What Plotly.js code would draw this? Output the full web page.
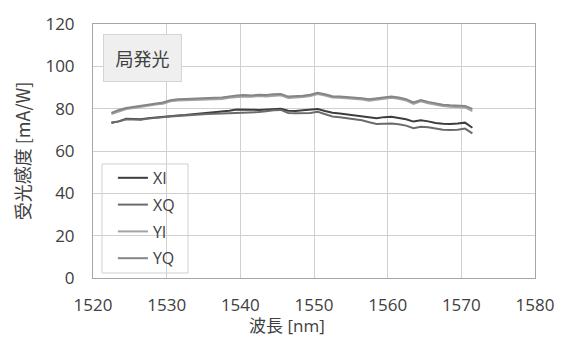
<!DOCTYPE html>
<html>
<head>
<meta charset="utf-8">
<script src="https://cdn.plot.ly/plotly-3.0.1.min.js"></script>
<style>
  html, body { margin: 0; padding: 0; background: #ffffff; }
  #chart { width: 562px; height: 338px; }
</style>
</head>
<body>
<div id="chart"></div>
<script>
// Wavelength samples [nm]
const wavelength = [
  1522.5, 1523.5, 1524.5, 1525.5, 1526.5, 1527.5, 1528.5, 1529.5, 1530.5, 1531.5,
  1532.5, 1533.5, 1534.5, 1535.5, 1536.5, 1537.5, 1538.5, 1539.5, 1540.5, 1541.5,
  1542.5, 1543.5, 1544.5, 1545.5, 1546.5, 1547.5, 1548.5, 1549.5, 1550.5, 1551.5,
  1552.5, 1553.5, 1554.5, 1555.5, 1556.5, 1557.5, 1558.5, 1559.5, 1560.5, 1561.5,
  1562.5, 1563.5, 1564.5, 1565.5, 1566.5, 1567.5, 1568.5, 1569.5, 1570.5, 1571.5
];

// Responsivity [mA/W] per channel
const respXI = [
  73.4, 74.0, 75.2, 75.1, 75.0, 75.5, 75.9, 76.2, 76.6, 76.8,
  77.0, 77.3, 77.6, 77.9, 78.2, 78.5, 79.0, 79.6, 79.7, 79.5,
  79.4, 79.7, 80.0, 80.0, 79.0, 78.9, 79.3, 79.5, 79.8, 78.9,
  78.1, 77.7, 77.3, 76.9, 76.5, 75.8, 75.5, 76.0, 76.2, 75.6,
  75.0, 73.9, 74.5, 74.0, 73.2, 72.9, 72.7, 73.0, 73.4, 71.0
];
const respXQ = [
  73.4, 74.0, 75.0, 74.9, 74.8, 75.3, 75.7, 76.0, 76.3, 76.5,
  76.8, 77.0, 77.3, 77.5, 77.6, 77.7, 77.8, 78.0, 78.3, 78.2,
  78.4, 78.8, 79.3, 79.4, 78.0, 77.8, 77.8, 78.0, 78.5, 77.5,
  76.3, 75.9, 75.4, 75.0, 74.5, 73.6, 72.8, 72.9, 73.0, 72.6,
  72.0, 70.8, 71.4, 71.2, 70.5, 70.0, 69.9, 70.0, 70.6, 68.3
];
const respYI = [
  77.5, 78.8, 79.8, 80.3, 80.9, 81.4, 82.0, 82.3, 83.5, 83.9,
  84.0, 84.1, 84.0, 84.3, 84.4, 84.6, 85.2, 85.6, 85.8, 85.6,
  86.0, 85.8, 86.2, 86.3, 85.0, 85.2, 85.5, 86.0, 86.9, 86.2,
  85.3, 85.2, 85.0, 84.8, 84.3, 83.8, 84.2, 84.9, 85.2, 84.7,
  83.9, 82.2, 83.5, 82.6, 81.8, 81.2, 80.9, 80.8, 80.6, 78.9
];
const respYQ = [
  78.0, 79.4, 80.3, 80.8, 81.5, 82.0, 82.6, 82.9, 84.0, 84.5,
  84.6, 84.7, 84.6, 84.9, 85.1, 85.3, 85.8, 86.2, 86.4, 86.2,
  86.6, 86.5, 86.8, 86.9, 85.7, 85.8, 86.1, 86.6, 87.5, 86.8,
  85.9, 85.8, 85.6, 85.4, 84.9, 84.4, 84.8, 85.5, 85.8, 85.3,
  84.5, 82.9, 84.1, 83.2, 82.4, 81.9, 81.6, 81.5, 81.3, 79.9
];

const channelNames = ['XI', 'XQ', 'YI', 'YQ'];
const channelData = [respXI, respXQ, respYI, respYQ];
const channelColors = ['#3d3d3d', '#6b6b6b', '#a2a2a2', '#858585'];

const xTicks = [1520, 1530, 1540, 1550, 1560, 1570, 1580];
const yTicks = [0, 20, 40, 60, 80, 100, 120];

const latin = '"Open Sans", "Noto Sans CJK JP", sans-serif';
const cjk = '"Noto Sans CJK JP", sans-serif';
const textColor = '#404040';

const traces = channelNames.map((name, i) => ({
  type: 'scatter',
  mode: 'lines',
  name: name,
  legendgroup: name,
  x: wavelength,
  y: channelData[i],
  line: { color: channelColors[i], width: 2 },
  hoverinfo: 'skip'
}));

const layout = {
  width: 562,
  height: 338,
  margin: { l: 93, r: 27, t: 24, b: 60 },
  paper_bgcolor: '#ffffff',
  plot_bgcolor: '#ffffff',
  font: { family: latin, size: 17, color: textColor },
  showlegend: true,
  legend: {
    x: 0.045, y: 0.461, xanchor: 'left', yanchor: 'top',
    bgcolor: 'rgba(0,0,0,0)',
    borderwidth: 0,
    font: { family: latin, size: 16, color: textColor },
    tracegroupgap: 3,
    itemwidth: 30
  },
  xaxis: {
    range: [1520, 1580],
    tickvals: xTicks,
    ticktext: xTicks.map(String),
    showgrid: true,
    gridcolor: '#d0d0d0',
    gridwidth: 1,
    showline: true,
    linecolor: '#a6a6a6',
    linewidth: 1,
    mirror: true,
    zeroline: false,
    ticks: '',
    ticklabelstandoff: 12,
    tickfont: { family: latin, size: 17, color: textColor }
  },
  yaxis: {
    range: [0, 120],
    tickvals: yTicks,
    ticktext: yTicks.map(String),
    showgrid: true,
    gridcolor: '#d0d0d0',
    gridwidth: 1,
    showline: true,
    linecolor: '#a6a6a6',
    linewidth: 1,
    mirror: true,
    zeroline: false,
    ticks: '',
    ticklabelstandoff: 14,
    tickfont: { family: latin, size: 17, color: textColor },
    title: { text: '受光感度 [mA/W]', font: { family: cjk, size: 18, color: textColor }, standoff: 10 }
  },
  shapes: [{
    // legend frame
    type: 'rect', xref: 'paper', yref: 'paper', layer: 'between',
    x0: 0.0204, x1: 0.215, y0: 0.0197, y1: 0.449,
    fillcolor: '#ffffff',
    line: { color: '#d0d0d0', width: 1 }
  }],
  annotations: [
    {
      xref: 'paper', yref: 'paper',
      x: 0.0215, y: 0.961, xanchor: 'left', yanchor: 'top',
      text: '局発光',
      showarrow: false,
      width: 75, height: 44,
      bgcolor: '#efefef',
      bordercolor: '#d4d4d4',
      borderwidth: 1,
      font: { family: cjk, size: 18, color: textColor }
    },
    {
      // x-axis title
      xref: 'paper', yref: 'paper',
      x: 0.44, y: -0.2362, xanchor: 'center', yanchor: 'bottom',
      text: '波長 [nm]',
      showarrow: false,
      borderpad: 0,
      font: { family: latin, size: 17, color: textColor }
    }
  ]
};

Plotly.newPlot('chart', traces, layout, { staticPlot: true, displayModeBar: false });
</script>
</body>
</html>
